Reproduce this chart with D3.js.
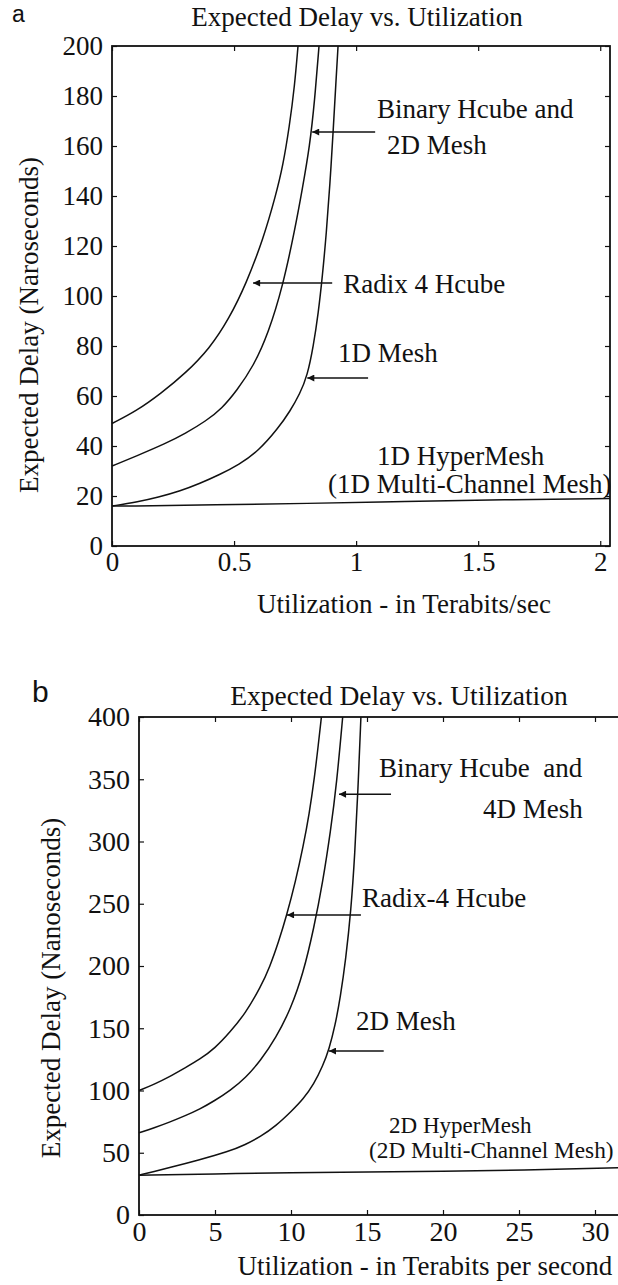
<!DOCTYPE html>
<html>
<head>
<meta charset="utf-8">
<script src="https://cdn.jsdelivr.net/npm/d3@7"></script>
<style>
body { margin: 0; background: #fff; }
text { font-family: "Liberation Serif", "Times New Roman", serif; fill: #111; }
</style>
</head>
<body>
<script>
// ---- panel a : 1D networks ----
var aUtilTicks = [0, 0.5, 1, 1.5, 2];
var aDelayTicks = [0, 20, 40, 60, 80, 100, 120, 140, 160, 180, 200];

var aRadixU = [0, 0.10, 0.20, 0.30, 0.40, 0.48, 0.55, 0.62, 0.67, 0.70, 0.727, 0.748, 0.762];
var aRadixD = [49, 54, 61, 69, 79, 91, 105, 123, 140, 152, 168, 184, 200];

var aBinaryU = [0, 0.10, 0.22, 0.30, 0.385, 0.45, 0.51, 0.58, 0.64, 0.70, 0.75, 0.78, 0.81, 0.83, 0.848];
var aBinaryD = [32, 36, 41, 45, 50, 55, 62, 72, 85, 104, 127, 143, 160, 178, 200];

var aMeshU = [0, 0.10, 0.19, 0.28, 0.36, 0.44, 0.52, 0.60, 0.68, 0.73, 0.77, 0.80, 0.825, 0.845, 0.862, 0.878, 0.893, 0.906, 0.917, 0.926];
var aMeshD = [16, 17.5, 19.5, 22, 25, 28.5, 32.5, 38, 47, 54, 61, 68, 80, 93, 108, 125, 145, 166, 185, 200];

var aHyperU = [0, 0.15, 0.4, 0.8, 1.2, 1.6, 2.04];
var aHyperD = [16, 16, 16.5, 17, 17.8, 18.5, 19];

// labels: [text, util, delay, anchor]
var aLabels = [
  ["Binary Hcube and", 1.086, 171.2, "start"],
  ["2D Mesh", 1.127, 156.8, "start"],
  ["Radix 4 Hcube", 0.947, 101.2, "start"],
  ["1D Mesh", 0.926, 73.6, "start"],
  ["1D HyperMesh", 1.086, 32.4, "start"],
  ["(1D Multi-Channel Mesh)", 0.885, 21.2, "start"]
];
// arrows: [fromUtil, toUtil, delay]
var aArrows = [
  [1.078, 0.82, 165.6],
  [0.902, 0.578, 105.2],
  [1.049, 0.80, 67.2]
];

// ---- panel b : 2D networks ----
var bUtilTicks = [0, 5, 10, 15, 20, 25, 30];
var bDelayTicks = [0, 50, 100, 150, 200, 250, 300, 350, 400];

var bRadixU = [0, 1.0, 2.0, 3.0, 4.0, 5.0, 6.0, 7.0, 8.0, 8.6, 9.2, 9.7, 10.3, 10.8, 11.2, 11.55, 11.8, 12.0];
var bRadixD = [100, 105, 111, 118, 125, 134, 147, 162, 183, 199, 220, 240, 268, 296, 322, 352, 378, 400];

var bBinaryU = [0, 1, 2, 3, 4, 5, 6, 7, 8, 9, 10, 10.8, 11.5, 12.1, 12.6, 13.0, 13.4];
var bBinaryD = [66, 70, 74.5, 79.5, 85, 92, 100, 110, 124, 142, 166, 194, 230, 268, 308, 346, 400];

var bMeshU = [0, 1.0, 2.0, 3.9, 5.9, 7.0, 8.0, 9.0, 10.0, 10.8, 11.5, 12.1, 12.5, 12.9, 13.25, 13.6, 13.95, 14.2, 14.4, 14.6];
var bMeshD = [32, 35, 38, 44, 51, 56.5, 63, 71.5, 83, 93, 105, 120, 133, 152, 175, 205, 245, 290, 340, 400];

var bHyperU = [0, 5, 10, 15, 20, 25, 32];
var bHyperD = [32, 33, 34, 34.5, 35, 36, 38];

var bLabels = [
  ["Binary Hcube  and", 15.79, 351.8, "start", 27],
  ["4D Mesh", 29.2, 318.9, "end", 27],
  ["Radix-4 Hcube", 14.67, 247.4, "start", 27],
  ["2D Mesh", 14.28, 148.6, "start", 27],
  ["2D HyperMesh", 16.45, 65.6, "start", 23],
  ["(2D Multi-Channel Mesh)", 15.13, 45.8, "start", 23.3]
];
var bArrows = [
  [16.58, 13.16, 338],
  [14.6, 9.74, 241],
  [16.1, 12.5, 131.7]
];

var W = 618, H = 1285;

var svg = d3.select("body").append("svg")
  .attr("width", W)
  .attr("height", H);

svg.append("defs").append("marker")
  .attr("id", "head")
  .attr("viewBox", "0 0 10 10")
  .attr("refX", 10).attr("refY", 5)
  .attr("markerUnits", "userSpaceOnUse")
  .attr("markerWidth", 9).attr("markerHeight", 7)
  .attr("orient", "auto")
  .append("path")
  .attr("d", "M0,0L10,5L0,10z")
  .attr("fill", "#111");

function drawPanel(p) {
  var x = d3.scaleLinear().domain([0, p.xMax]).range([p.left, p.right]);
  var y = d3.scaleLinear().domain([0, p.yMax]).range([p.bottom, p.top]);
  var g = svg.append("g");

  // ticks on all sides, pointing inward
  var fmt = function(d) { return String(d); };
  g.append("g").attr("transform", "translate(0," + p.bottom + ")")
    .call(d3.axisBottom(x).tickValues(p.xTicks).tickFormat(fmt).tickSizeInner(-5).tickSizeOuter(0).tickPadding(p.xPad));
  g.append("g").attr("transform", "translate(0," + p.top + ")")
    .call(d3.axisTop(x).tickValues(p.xTicks).tickFormat("").tickSizeInner(-5).tickSizeOuter(0));
  g.append("g").attr("transform", "translate(" + p.left + ",0)")
    .call(d3.axisLeft(y).tickValues(p.yTicks).tickFormat(fmt).tickSizeInner(-5).tickSizeOuter(0).tickPadding(9));
  g.append("g").attr("transform", "translate(" + p.right + ",0)")
    .call(d3.axisRight(y).tickValues(p.yTicks).tickFormat("").tickSizeInner(-5).tickSizeOuter(0));

  g.selectAll(".domain").remove();
  g.selectAll(".tick line").attr("stroke", "#111").attr("stroke-width", 1.2);
  g.selectAll(".tick text")
    .attr("fill", "#111")
    .style("font-family", '"Liberation Serif", serif')
    .style("font-size", p.tickSize + "px");

  g.append("rect")
    .attr("x", p.left).attr("y", p.top)
    .attr("width", p.right - p.left).attr("height", p.bottom - p.top)
    .attr("fill", "none").attr("stroke", "#111").attr("stroke-width", 1.8);

  var line = d3.line()
    .x(function(d) { return x(d[0]); })
    .y(function(d) { return y(d[1]); })
    .curve(d3.curveBasis);

  p.series.forEach(function(s) {
    g.append("path")
      .datum(d3.zip(s[0], s[1]))
      .attr("d", line)
      .attr("fill", "none")
      .attr("stroke", "#111")
      .attr("stroke-width", 1.5);
  });

  g.selectAll(".arrow").data(p.arrows).enter().append("line")
    .attr("class", "arrow")
    .attr("x1", function(d) { return x(d[0]); })
    .attr("x2", function(d) { return x(d[1]); })
    .attr("y1", function(d) { return y(d[2]); })
    .attr("y2", function(d) { return y(d[2]); })
    .attr("stroke", "#111").attr("stroke-width", 1.5)
    .attr("marker-end", "url(#head)");

  g.selectAll(".lab").data(p.labels).enter().append("text")
    .attr("class", "lab")
    .attr("x", function(d) { return x(d[1]); })
    .attr("y", function(d) { return y(d[2]); })
    .attr("text-anchor", function(d) { return d[3]; })
    .style("white-space", "pre")
    .style("font-size", function(d) { return (d[4] || 27) + "px"; })
    .text(function(d) { return d[0]; });

  // title, axis labels, panel letter
  g.append("text")
    .attr("x", p.titleX).attr("y", p.titleY)
    .attr("text-anchor", "middle")
    .style("font-size", p.titleSize + "px")
    .text("Expected Delay vs. Utilization");
  g.append("text")
    .attr("x", p.xLabX).attr("y", p.xLabY)
    .attr("text-anchor", "middle")
    .style("font-size", "27px")
    .text(p.xLabel);
  g.append("text")
    .attr("transform", "translate(" + p.yLabX + "," + p.yLabY + ") rotate(-90)")
    .attr("text-anchor", "middle")
    .style("font-size", "27px")
    .text(p.yLabel);
  g.append("text")
    .attr("x", p.letterX).attr("y", p.letterY)
    .style("font-family", '"Liberation Sans", Arial, sans-serif')
    .style("font-size", p.letterSize + "px")
    .text(p.letter);
}

drawPanel({
  letter: "a", letterX: 12, letterY: 22, letterSize: 23,
  left: 112, right: 610, top: 46, bottom: 546,
  xMax: 2.04, yMax: 200, xTicks: aUtilTicks, yTicks: aDelayTicks,
  xPad: 6, tickSize: 27,
  series: [[aRadixU, aRadixD], [aBinaryU, aBinaryD], [aMeshU, aMeshD], [aHyperU, aHyperD]],
  arrows: aArrows, labels: aLabels,
  titleX: 357, titleY: 26, titleSize: 27,
  xLabel: "Utilization - in Terabits/sec", xLabX: 404, xLabY: 613,
  yLabel: "Expected Delay (Naroseconds)", yLabX: 38, yLabY: 325
});

drawPanel({
  letter: "b", letterX: 32, letterY: 702, letterSize: 30,
  left: 139, right: 139 + 32 * 15.2, top: 717, bottom: 1215,
  xMax: 32, yMax: 400, xTicks: bUtilTicks, yTicks: bDelayTicks,
  xPad: 6, tickSize: 28,
  series: [[bRadixU, bRadixD], [bBinaryU, bBinaryD], [bMeshU, bMeshD], [bHyperU, bHyperD]],
  arrows: bArrows, labels: bLabels,
  titleX: 399, titleY: 705, titleSize: 27.5,
  xLabel: "Utilization - in Terabits per second", xLabX: 425, xLabY: 1275,
  yLabel: "Expected Delay (Nanoseconds)", yLabX: 60, yLabY: 988
});
</script>
</body>
</html>
